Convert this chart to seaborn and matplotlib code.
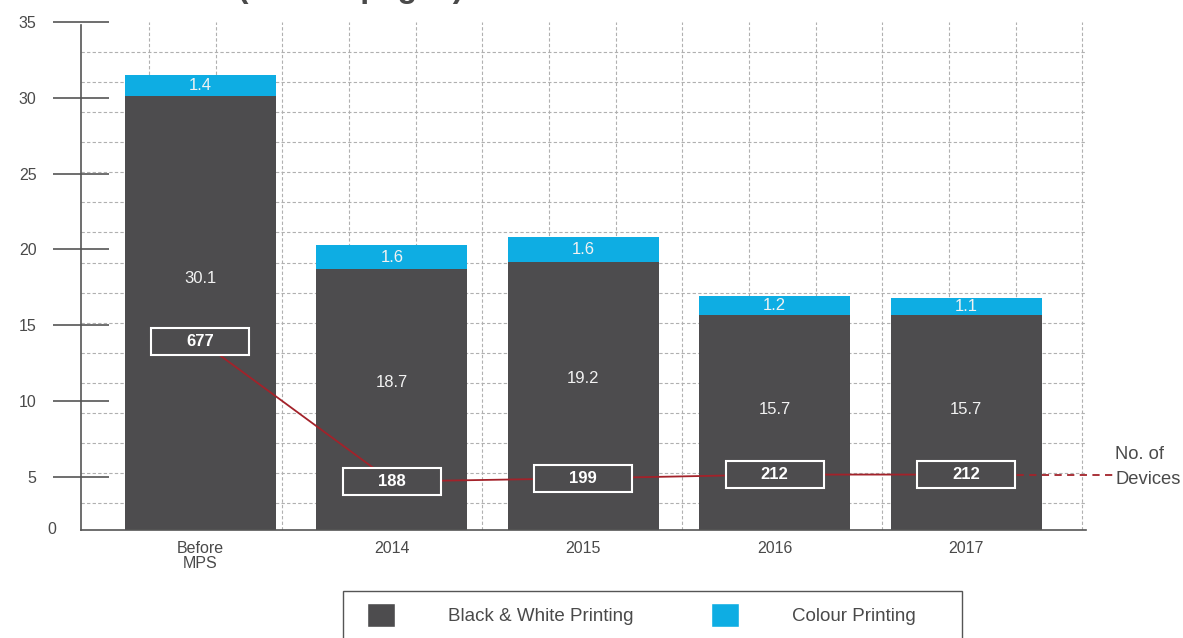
import numpy as np
import pandas as pd
import matplotlib
matplotlib.use('Agg')
import matplotlib.pyplot as plt
from matplotlib.patches import Rectangle, Patch
import seaborn as sns

# data
categories = ['Before\nMPS', '2014', '2015', '2016', '2017']
bw_printing = [30.1, 18.7, 19.2, 15.7, 15.7]
colour_printing = [1.4, 1.6, 1.6, 1.2, 1.1]
devices = [677, 188, 199, 212, 212]
y_ticks = [5, 10, 15, 20, 25, 30, 35]

dark = '#4d4c4e'
cyan = '#0eade3'
red = '#a3222a'
text_grey = '#4a4a4a'

sns.set_style('white')
plt.rcParams['font.family'] = ['Liberation Sans', 'DejaVu Sans']

df = pd.DataFrame({'category': categories, 'bw': bw_printing, 'colour': colour_printing})
df['total'] = df['bw'] + df['colour']

fig = plt.figure(figsize=(11.83, 6.38), dpi=100)
ax = fig.add_axes([81/1183, 1 - 530/638, (1086 - 81)/1183, (530 - 22)/638])

# stacked bars: full height in cyan, black & white part on top of it
sns.barplot(data=df, x='category', y='total', color=cyan, saturation=1, width=0.79,
            linewidth=0, ax=ax, zorder=2)
sns.barplot(data=df, x='category', y='bw', color=dark, saturation=1, width=0.79,
            linewidth=0, ax=ax, zorder=2)

ax.set_xlim(-0.624, 4.626)
ax.set_ylim(1.5, 35)
ax.set_xlabel('')
ax.set_ylabel('')

# decorative dashed grid
ax.set_xticks(np.linspace(-0.269, 4.607, 15), minor=True)
ax.set_yticks(np.linspace(3.3, 33.0, 16), minor=True)
ax.grid(which='minor', color='#b0b0b0', linestyle=(0, (3, 2)), linewidth=0.8)
ax.grid(which='major', visible=False)
ax.set_axisbelow(True)
ax.tick_params(which='minor', length=0)

ax.set_yticks(y_ticks)
ax.set_yticklabels([str(t) for t in y_ticks])
ax.tick_params(axis='y', which='major', direction='inout', length=40, width=1.2,
               color='#555555', pad=12, labelsize=11.5, labelcolor=text_grey)
ax.tick_params(axis='x', which='major', length=0, pad=8, labelsize=11.5, labelcolor=text_grey)
for lab in ax.get_xticklabels():
    lab.set_linespacing(0.95)
ax.text(52/1183 - 81/1183, 0, '0', transform=ax.transAxes, ha='right', va='center',
        fontsize=11.5, color=text_grey)

for s in ['top', 'right']:
    ax.spines[s].set_visible(False)
for s in ['left', 'bottom']:
    ax.spines[s].set_color('#555555')
    ax.spines[s].set_linewidth(1.2)
ax.spines['left'].set_bounds(1.5, 34.8)

# value labels
for i, row in df.iterrows():
    ax.text(i, row['bw'] * 0.6, f"{row['bw']:.1f}", ha='center', va='center',
            color='#f2f2f2', fontsize=12, zorder=5)
    ax.text(i, row['bw'] + row['colour'] / 2, f"{row['colour']:.1f}", ha='center', va='center',
            color='#f2f2f2', fontsize=12, zorder=5)

# number of devices on a hidden second axis
ax2 = ax.twinx()
ax2.set_ylim(19, 1788)
ax2.set_axis_off()
xs = np.arange(len(devices))
sns.lineplot(x=xs, y=devices, color=red, linewidth=1.3, ax=ax2, zorder=3)
ax2.plot([xs[-1], 4.765], [devices[-1], devices[-1]], color=red, linewidth=1.3,
         linestyle=(0, (4, 3)), clip_on=False, zorder=3)
box_w, box_h = 0.512, 94
for x, d in zip(xs, devices):
    ax2.add_patch(Rectangle((x - box_w / 2, d - box_h / 2), box_w, box_h, facecolor=dark,
                            edgecolor='white', linewidth=1.5, zorder=4))
    ax2.text(x, d, str(d), ha='center', va='center', color='white', fontsize=12,
             fontweight='bold', zorder=5)
ax2.annotate('No. of\nDevices', xy=(4.778, devices[-1]), xytext=(0, 5.5),
             textcoords='offset points', ha='left', va='center', fontsize=13.2,
             color=text_grey, linespacing=1.6, annotation_clip=False)

# title, almost entirely above the visible area as in the source
fig.text(464/1183, 1 + 2.5/638, 'Print Volume (million pages)', ha='right', va='baseline',
         fontsize=23, fontweight='bold', color=text_grey)

# legend with its own frame running off the bottom edge
fig.patches.append(Rectangle((343/1183, -0.05), (962 - 343)/1183, 0.05 + (638 - 591)/638,
                             transform=fig.transFigure, facecolor='none',
                             edgecolor='#555555', linewidth=1.0))
handles = [Patch(facecolor=dark), Patch(facecolor=cyan)]
leg = fig.legend(handles, ['Black & White Printing', 'Colour Printing'], ncol=2,
                 loc='upper left', bbox_to_anchor=(367/1183, 1 - 603/638),
                 fontsize=13.5, frameon=False, handlelength=1.49, handleheight=1.6,
                 handletextpad=2.85, columnspacing=4.1, borderpad=0, borderaxespad=0)
for t in leg.get_texts():
    t.set_color(text_grey)

fig.savefig('out.png', dpi=100)
